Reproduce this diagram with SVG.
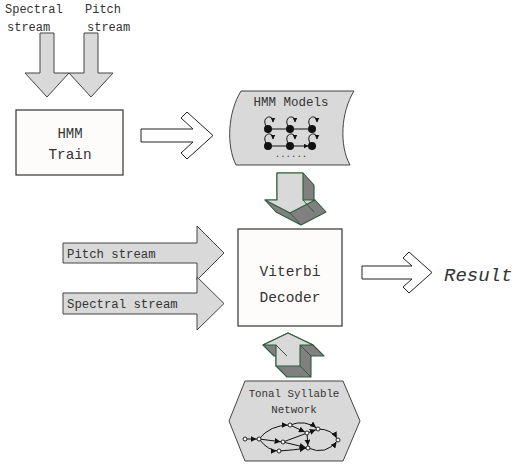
<svg xmlns="http://www.w3.org/2000/svg" width="527" height="466" viewBox="0 0 527 466">
<style>
text{font-family:"Liberation Mono","Noto Sans CJK SC",monospace;fill:#333}
.box{fill:#fdfcfa;stroke:#333;stroke-width:1.2}
.gr{fill:#d9d9d9;stroke:#444;stroke-width:1}
.hol{fill:#fff;stroke:#222;stroke-width:1}
.f3{fill:#d9d9d9;stroke:#2f5a3c;stroke-width:1.1;stroke-linejoin:round}
.d3{fill:#808080;stroke:#2f5a3c;stroke-width:1.1;stroke-linejoin:round}
.e3{stroke:#2f5a3c;stroke-width:1;fill:none}
.ln{stroke:#111;stroke-width:1;fill:none}
.nd{fill:#111}
.on{fill:#fff;stroke:#111;stroke-width:0.9}
</style>
<defs>
<marker id="ah" viewBox="0 0 10 10" refX="9" refY="5" markerWidth="5" markerHeight="5" orient="auto" markerUnits="userSpaceOnUse">
<path d="M0,0 L10,5 L0,10 Z" fill="#111"/>
</marker>
<marker id="an" viewBox="0 0 10 10" refX="14" refY="5" markerWidth="6" markerHeight="6" orient="auto" markerUnits="userSpaceOnUse">
<path d="M0,0 L10,5 L0,10 Z" fill="#111"/>
</marker>
</defs>

<g id="labels-top">
<text x="5" y="13" font-size="12">Spectral</text>
<text x="7" y="31" font-size="12">stream</text>
<text x="85" y="13" font-size="12">Pitch</text>
<text x="87" y="31" font-size="12">stream</text>
</g>

<g id="connectors">
<path class="gr" d="M40,33 H54 V73 H69 L47,97 L25,73 H40 Z"/>
<path class="gr" d="M84,33 H98 V73 H113 L91,97 L69,73 H84 Z"/>
<path class="hol" d="M141,129 H193 L181,118 L187,112 L213,135.5 L187,159 L181,153 L193,142 H141 Z"/>
<path class="hol" d="M362,266 H412 L403,258 L409,252 L432,272.5 L409,293 L403,287 L412,279 H362 Z"/>
<g id="pitch-stream">
<path class="gr" d="M63,243 H197 V226 L224,253 L197,280 V263 H63 Z"/>
<text x="67" y="258" font-size="12.3">Pitch stream</text>
</g>
<g id="spectral-stream">
<path class="gr" d="M63,293 H197 V277 L224,303.5 L197,330 V314 H63 Z"/>
<text x="67" y="308" font-size="12.3">Spectral stream</text>
</g>
<g id="arrow3d-down">
<polygon class="d3" points="277,173 303,173 314,185 314,200 315,200 326,212 301,225 276,212 265,200 277,200"/>
<polygon class="f3" points="277,173 303,173 303,200 315,200 290,213 265,200 277,200"/>
<path class="e3" d="M290,213 L301,225 M303,200 L314,212"/>
</g>
<g id="arrow3d-up">
<polygon class="d3" points="288,333 313,345 324,356 311,356 311,377 287,377 276,366 276,356 274,356 263,345"/>
<polygon class="f3" points="288,333 313,345 300,345 300,366 276,366 276,345 263,345"/>
<path class="e3" d="M300,345 L311,356 M300,366 L311,377 M276,345 L287,356"/>
</g>
</g>

<g id="hmm-train">
<rect class="box" x="16" y="110" width="107" height="65"/>
<text x="70" y="138" font-size="14" text-anchor="middle">HMM</text>
<text x="70" y="159" font-size="14.4" text-anchor="middle">Train</text>
</g>

<g id="hmm-models">
<path class="gr" d="M241,91 L354,91 C341,112 339,145 350,165 L236,165 C226,145 228,112 241,91 Z"/>
<text x="291" y="106" font-size="12.5" text-anchor="middle">HMM Models</text>
<g>
<circle class="nd" cx="268" cy="129" r="4"/><circle class="nd" cx="290" cy="129" r="4"/><circle class="nd" cx="312" cy="129" r="4"/>
<circle class="nd" cx="268" cy="146" r="4"/><circle class="nd" cx="290" cy="146" r="4"/><circle class="nd" cx="312" cy="146" r="4"/>
<path class="ln" marker-end="url(#ah)" d="M272,129 H286 M294,129 H308 M272,146 H286 M294,146 H308"/>
<path class="ln" marker-end="url(#ah)" d="M266,126 C261,117 273,113 273,122"/>
<path class="ln" marker-end="url(#ah)" d="M288,126 C283,117 295,113 295,122"/>
<path class="ln" marker-end="url(#ah)" d="M310,126 C305,117 317,113 317,122"/>
<path class="ln" marker-end="url(#ah)" d="M266,143 C261,134 273,130 273,139"/>
<path class="ln" marker-end="url(#ah)" d="M288,143 C283,134 295,130 295,139"/>
<path class="ln" marker-end="url(#ah)" d="M310,143 C305,134 317,130 317,139"/>
</g>
<text x="291" y="157" font-size="9" text-anchor="middle">......</text>
</g>

<g id="viterbi-decoder">
<rect class="box" x="238" y="229" width="104" height="97"/>
<text x="290" y="276" font-size="14.5" text-anchor="middle">Viterbi</text>
<text x="290" y="302" font-size="14.5" text-anchor="middle">Decoder</text>
</g>

<g id="result">
<text x="444" y="281" font-size="19" font-style="italic" fill="#111">Result</text>
</g>

<g id="tonal-syllable-network">
<polygon class="gr" points="245,381 343,381 360,421 343,461 245,461 229,421"/>
<text x="294" y="397" font-size="10.8" text-anchor="middle">Tonal Syllable</text>
<text x="294" y="413" font-size="10.8" text-anchor="middle">Network</text>
<g>
<path class="ln" marker-end="url(#an)" d="M245,439 L259,439"/>
<path class="ln" marker-end="url(#an)" d="M259,439 Q270,425 290,425"/>
<path class="ln" marker-end="url(#an)" d="M259,439 L283,442"/>
<path class="ln" marker-end="url(#an)" d="M259,439 Q268,451 279,451"/>
<path class="ln" marker-end="url(#an)" d="M290,425 L307,433"/>
<path class="ln" marker-end="url(#an)" d="M290,425 Q305,419 318,429"/>
<path class="ln" marker-end="url(#an)" d="M283,442 L318,429"/>
<path class="ln" marker-end="url(#an)" d="M283,442 L308,448"/>
<path class="ln" marker-end="url(#an)" d="M279,451 Q294,450 308,448"/>
<path class="ln" marker-end="url(#an)" d="M318,429 Q332,429 338,440"/>
<path class="ln" marker-end="url(#an)" d="M308,448 Q326,456 338,440"/>
<path class="ln" marker-end="url(#an)" d="M307,433 L308,448"/>
</g>
<circle class="on" cx="245" cy="439" r="2"/>
<circle class="on" cx="259" cy="439" r="2"/>
<circle class="on" cx="290" cy="425" r="2"/>
<circle class="on" cx="283" cy="442" r="2"/>
<circle class="on" cx="279" cy="451" r="2"/>
<circle class="on" cx="307" cy="433" r="2"/>
<circle class="on" cx="318" cy="429" r="2"/>
<circle class="on" cx="308" cy="448" r="2"/>
<circle class="on" cx="338" cy="440" r="2"/>
</g>
</svg>
